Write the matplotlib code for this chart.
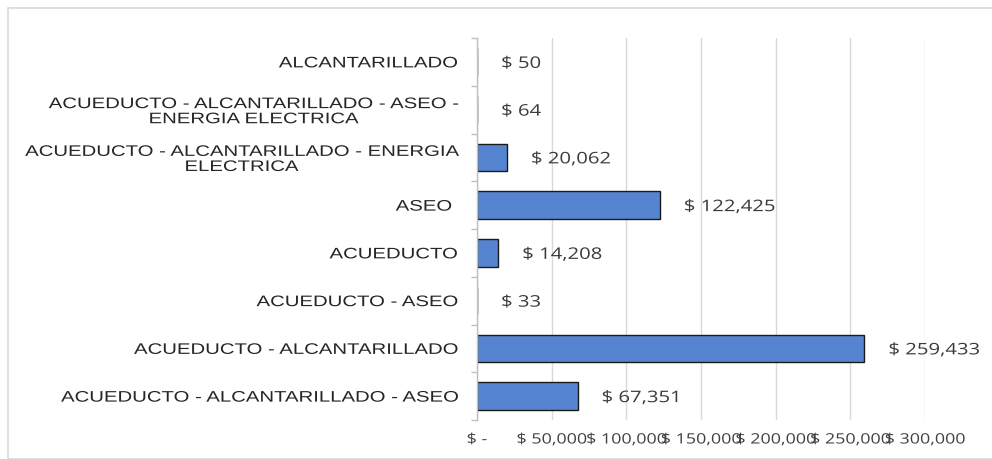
import matplotlib
matplotlib.use("Agg")
import matplotlib.pyplot as plt
from matplotlib.patches import Rectangle
from matplotlib.ticker import FuncFormatter, FixedLocator
from matplotlib.patheffects import AbstractPathEffect
from matplotlib.transforms import Affine2D, ScaledTranslation

categories = [
    "ALCANTARILLADO",
    "ACUEDUCTO - ALCANTARILLADO - ASEO -\nENERGIA ELECTRICA",
    "ACUEDUCTO - ALCANTARILLADO - ENERGIA\nELECTRICA",
    "ASEO ",
    "ACUEDUCTO",
    "ACUEDUCTO - ASEO",
    "ACUEDUCTO - ALCANTARILLADO",
    "ACUEDUCTO - ALCANTARILLADO - ASEO",
]
values = [50, 64, 20062, 122425, 14208, 33, 259433, 67351]
x_ticks = [0, 50000, 100000, 150000, 200000, 250000, 300000]


class HStretch(AbstractPathEffect):
    """Stretch a text horizontally about its anchor point (the text stays a Text)."""

    def __init__(self, text, sx):
        super().__init__()
        self.text = text
        self.sx = sx

    def draw_path(self, renderer, gc, tpath, affine, rgbFace=None):
        t = self.text
        x0 = t.get_transform().transform(t.get_unitless_position())[0]
        tr = affine + Affine2D().translate(-x0, 0).scale(self.sx, 1).translate(x0, 0)
        renderer.draw_path(gc, tpath, tr, rgbFace)


W, H = 992, 459
fig = plt.figure(figsize=(W / 100, H / 100), dpi=100)
fig.patch.set_facecolor("white")
fig.patches.append(Rectangle((8 / W, 0), 1.2, 1 - 8 / H, transform=fig.transFigure,
                             fill=False, edgecolor="#d9d9d9", linewidth=1.2))

left, right = 477 / W, 925 / W
top, bottom = 1 - 38 / H, 1 - 420 / H
ax = fig.add_axes([left, bottom, right - left, top - bottom])

n = len(categories)
ypos = list(range(n))
ax.barh(ypos, values, height=0.58, color="#5585d0", edgecolor="#1a1a1a", linewidth=1.0, zorder=3)
ax.set_ylim(n - 0.5, -0.5)
ax.set_xlim(0, 300000)

ax.set_yticks(ypos)
ax.set_yticklabels(categories, fontfamily="Liberation Sans", fontsize=11,
                   multialignment="center", color="#262626", linespacing=1.1)
ax.tick_params(axis="y", length=0, pad=14)
ax.yaxis.set_minor_locator(FixedLocator([i + 0.5 for i in range(-1, n)]))
ax.tick_params(axis="y", which="minor", length=4, color="#bfbfbf", width=1)
for lbl in ax.get_yticklabels():
    lbl.set_path_effects([HStretch(lbl, 1.33)])


def fmt(v, pos):
    return "$ -" if v == 0 else "$ {:,.0f}".format(v)


ax.xaxis.set_major_locator(FixedLocator(x_ticks))
ax.xaxis.set_major_formatter(FuncFormatter(fmt))
ax.tick_params(axis="x", length=0, pad=9, labelsize=10.3, labelcolor="#404040")
for lbl in ax.get_xticklabels():
    lbl.set_fontfamily("Open Sans")
    lbl.set_path_effects([HStretch(lbl, 1.25)])
ax.grid(axis="x", color="#d9d9d9", linewidth=1, zorder=0)

for s in ["top", "right", "bottom"]:
    ax.spines[s].set_visible(False)
ax.spines["left"].set_color("#bfbfbf")
ax.spines["left"].set_linewidth(1)
ax.spines["left"].set_zorder(4)

offset = ScaledTranslation(24 / 100, 0, fig.dpi_scale_trans)
for y, v in zip(ypos, values):
    t = ax.text(v, y, "$ {:,.0f}".format(v), transform=ax.transData + offset,
                va="center_baseline", ha="left", fontfamily="Open Sans", fontsize=11.5,
                color="#3a3a3a")
    t.set_path_effects([HStretch(t, 1.27)])

fig.savefig("out.png", dpi=100)
